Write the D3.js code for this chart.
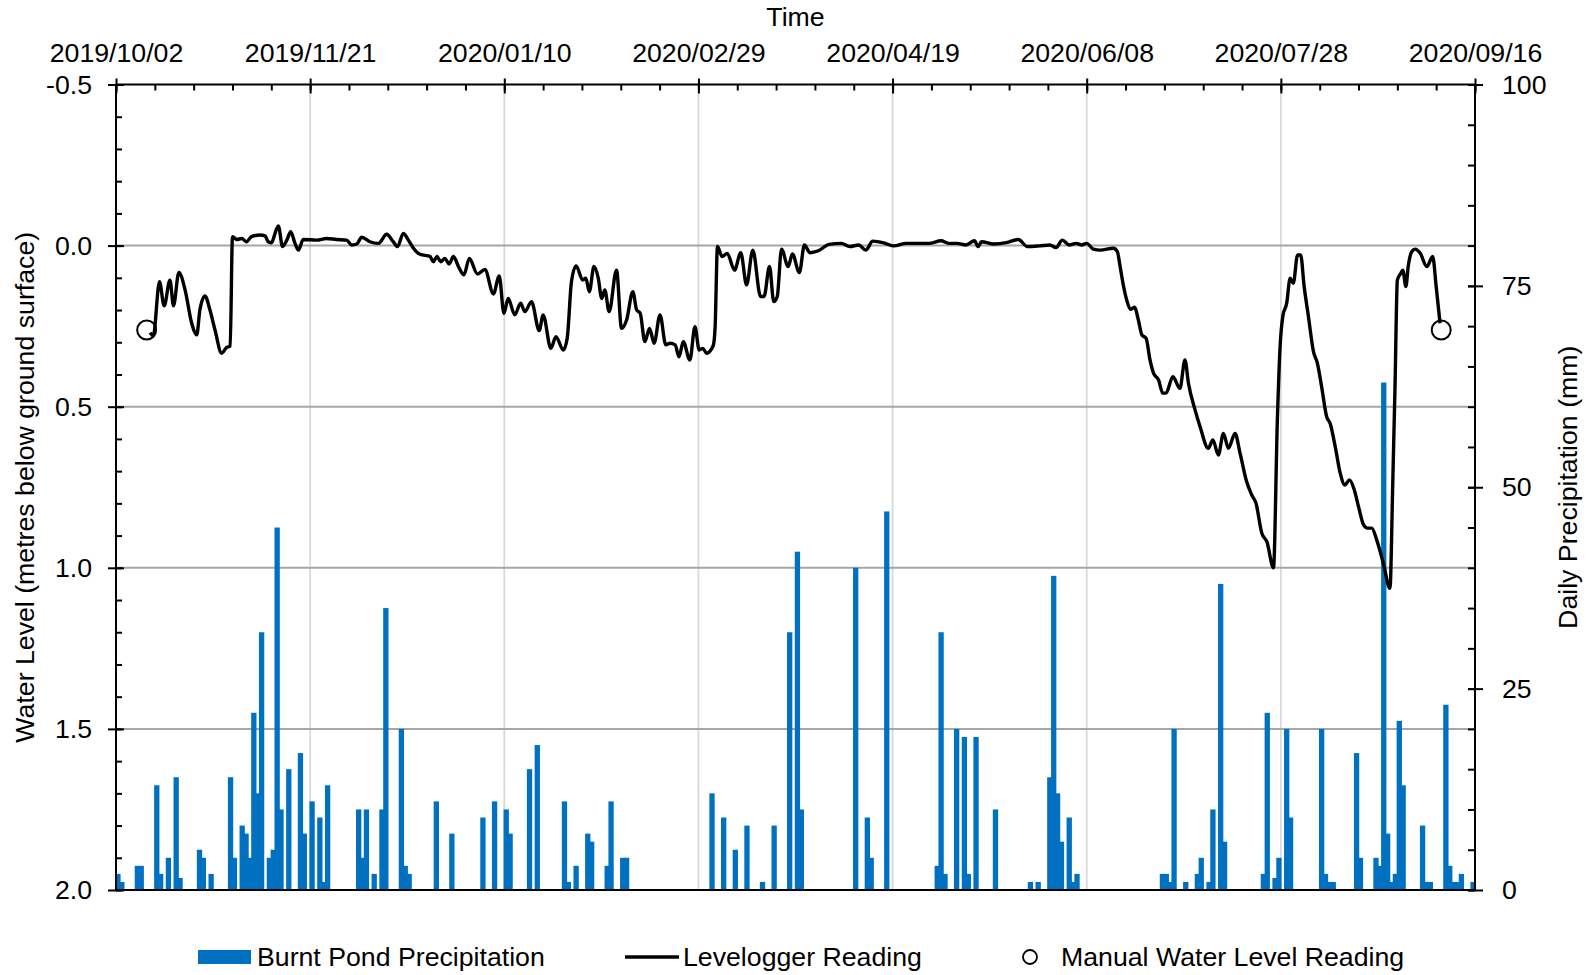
<!DOCTYPE html>
<html>
<head>
<meta charset="utf-8">
<script src="https://cdn.jsdelivr.net/npm/d3@7/dist/d3.min.js"></script>
<style>
  body { margin: 0; background: #fff; }
  svg text { font-family: "Liberation Sans", Arial, sans-serif; fill: #000; }
</style>
</head>
<body>
<div id="chart"></div>
<script>
// --- Datos (días contados desde 2019/10/02) ---
const xTickLabels = ["2019/10/02", "2019/11/21", "2020/01/10", "2020/02/29", "2020/04/19", "2020/06/08", "2020/07/28", "2020/09/16"];
const leftTicks = [-0.5, 0.0, 0.5, 1.0, 1.5, 2.0];
const rightTicks = [0, 25, 50, 75, 100];

// Precipitación diaria (mm)
const precipDay = [0, 1, 5, 6, 10, 11, 13, 15, 16, 21, 22, 24, 29, 30, 32, 33, 34, 35, 36, 37, 39, 40, 41, 42, 44, 47, 48, 50, 52, 53, 54,
  62, 63, 64, 66, 68, 69, 73, 74, 75, 82, 86, 94, 97, 100, 101, 106, 108,
  115, 116, 118, 121, 122, 126, 127, 130, 131, 153, 156, 159, 162, 166, 169, 173, 175, 176, 190, 193, 194, 198,
  211, 212, 213, 216, 218, 219, 221, 226, 235, 237, 240, 241, 242, 243, 245, 246, 247,
  269, 270, 271, 272, 275, 278, 279, 281, 282, 284, 285, 295, 296, 298, 299, 301, 302, 310, 311, 312, 313,
  319, 320, 324, 325, 326, 327, 328, 329, 330, 331, 336, 337, 338, 342, 343, 344, 345, 346, 349];
const precipMm = [2, 1, 3, 3, 13, 2, 4, 14, 1.5, 5, 4, 2, 14, 4, 8, 7, 4, 22, 12, 32, 4, 5, 45, 10, 15, 17, 7, 11, 9, 1, 13,
  10, 4, 10, 2, 10, 35, 20, 3, 2, 11, 7, 9, 11, 10, 7, 15, 18,
  11, 1, 3, 7, 6, 3, 11, 4, 4, 12, 9, 5, 8, 1, 8, 32, 42, 10, 40, 9, 4, 47,
  3, 32, 2, 20, 19, 2, 19, 10, 1, 1, 14, 39, 12, 6, 9, 1, 2,
  2, 2, 1, 20, 1, 2, 4, 1, 10, 38, 6, 2, 22, 1.5, 4, 20, 9, 20, 2, 1, 1,
  17, 4, 4, 3, 63, 7, 1, 2, 21, 13, 8, 1, 1, 23, 3, 1, 1, 2, 1];

// Lectura del Levelogger (m bajo la superficie)
const levelDay = [8.8, 9.6, 11.2, 12.4, 13.9, 14.8, 16.2, 17.8, 19.5, 20.8, 21.6, 22.9, 24.2, 25.5, 27.2, 28.5, 29.4,
  30.0, 31.1, 32.4, 33.6, 34.9, 37.1, 38.4, 39.2, 40.1, 40.7, 41.8, 42.9, 44.0, 45.0, 46.1, 47.0, 48.2,
  51.7, 54.2, 56.8, 59.4, 60.7, 62.0, 63.3, 65.4, 67.6, 69.7, 71.4, 72.5, 74.0, 75.3, 76.6, 78.3,
  80.9, 81.7, 82.7, 83.6, 84.7, 85.8, 86.9, 88.2, 89.6, 91.0, 93.1, 95.0, 97.2, 98.7, 99.9,
  101.0, 102.7, 104.2, 105.3, 107.0, 109.0, 110.0, 112.0, 113.3, 115.2, 116.2, 117.3, 118.5,
  120.2, 121.0, 121.9, 123.1, 124.2, 125.1, 125.9, 127.0, 128.9, 130.2, 131.5, 133.1, 134.1, 135.0,
  136.2, 137.4, 138.6, 140.1, 141.6, 142.7, 144.0, 145.0, 146.1, 147.8, 149.1, 150.2, 151.1, 152.1,
  153.8, 154.3, 154.9, 156.1, 157.4, 159.3, 160.9, 162.4, 164.0, 166.0, 166.9, 168.3, 169.4, 170.3,
  171.4, 173.1, 174.2, 176.0, 177.3, 178.7, 180.9, 183.6, 186.8, 189.0, 191.3, 193.1, 194.9, 198.1,
  200.3, 203.5, 206.2, 209.4, 212.5, 214.4, 216.6, 218.9, 221.1, 222.0, 222.9, 226.1, 229.3, 232.4,
  234.7, 237.8, 240.5, 242.1, 243.7, 245.5, 247.3, 248.7, 250.0, 251.7, 253.5, 256.9, 257.9, 258.6,
  259.5, 260.3, 261.3, 262.3, 263.3, 264.2, 265.3, 266.3, 267.2, 268.5, 269.6, 270.4, 272.2, 274.0,
  275.3, 276.2, 277.9, 279.2, 281.3, 282.5, 283.9, 285.2, 286.5, 288.2, 289.5, 291.2, 292.5, 293.6,
  295.1, 296.4, 298.1, 299.1, 299.8, 300.5, 301.5, 302.4, 303.2, 304.3, 305.1, 306.0, 307.1, 308.4,
  309.4, 310.5, 311.8, 312.7, 314.0, 315.3, 316.5, 317.7, 318.9, 320.0, 321.3, 322.3, 323.4, 324.7,
  326.4, 328.1, 328.8, 329.4, 330.0, 330.9, 331.4, 332.2, 332.8, 333.7, 334.6, 335.9, 337.6, 339.1,
  340.0, 341.0];
const levelM = [0.270, 0.280, 0.112, 0.187, 0.107, 0.187, 0.083, 0.138, 0.241, 0.277, 0.200, 0.156, 0.200, 0.262, 0.334, 0.316, 0.312,
  -0.028, -0.019, -0.022, -0.012, -0.028, -0.033, -0.030, -0.012, -0.009, -0.028, -0.061, 0.003, -0.017, -0.043, -0.007, 0.014, -0.019,
  -0.017, -0.022, -0.019, -0.017, -0.002, -0.005, -0.026, -0.012, -0.007, -0.035, -0.012, 0.003, -0.038, -0.017, 0.008, 0.027,
  0.034, 0.050, 0.034, 0.050, 0.040, 0.057, 0.034, 0.065, 0.091, 0.040, 0.088, 0.074, 0.150, 0.094, 0.210,
  0.164, 0.215, 0.179, 0.205, 0.174, 0.264, 0.215, 0.319, 0.283, 0.324, 0.288, 0.112, 0.063,
  0.107, 0.101, 0.143, 0.065, 0.101, 0.164, 0.138, 0.205, 0.076, 0.257, 0.231, 0.143, 0.200, 0.210,
  0.298, 0.257, 0.303, 0.215, 0.308, 0.303, 0.308, 0.345, 0.298, 0.355, 0.252, 0.324, 0.319, 0.334,
  0.311, 0.252, 0.003, 0.034, 0.024, 0.076, 0.022, 0.122, 0.014, 0.158, 0.158, 0.065, 0.174, 0.158,
  0.011, 0.065, 0.026, 0.084, -0.002, 0.022, 0.016, -0.004, -0.007, 0.003, -0.002, 0.014, -0.014, -0.007,
  0.001, -0.007, -0.007, -0.007, -0.015, -0.007, -0.007, -0.002, -0.015, 0.003, -0.012, -0.005, -0.009, -0.019,
  0.003, 0.001, -0.002, 0.006, -0.017, -0.002, -0.007, -0.002, -0.007, 0.011, 0.014, 0.008, 0.019, 0.065,
  0.127, 0.169, 0.198, 0.191, 0.231, 0.277, 0.288, 0.355, 0.396, 0.417, 0.458, 0.458, 0.407, 0.443,
  0.355, 0.427, 0.510, 0.562, 0.629, 0.603, 0.650, 0.583, 0.629, 0.583, 0.645, 0.733, 0.774, 0.800,
  0.893, 0.919, 1.000, 0.541, 0.314, 0.220, 0.179, 0.101, 0.117, 0.029, 0.029, 0.127, 0.220, 0.329,
  0.365, 0.438, 0.531, 0.552, 0.624, 0.707, 0.743, 0.727, 0.758, 0.810, 0.867, 0.877, 0.877, 0.914,
  0.986, 1.064, 0.748, 0.438, 0.107, 0.086, 0.076, 0.127, 0.065, 0.019, 0.011, 0.024, 0.065, 0.034,
  0.127, 0.241];

// Lecturas manuales
const manualDay = [7.9, 341.3];
const manualM = [0.262, 0.262];

// --- Dimensiones ---
const width = 1595, height = 975;
const plot = { left: 116, right: 1475, top: 84.5, bottom: 890 };
const FONT = 26.7;

const parseDate = d3.utcParse("%Y/%m/%d");
const start = parseDate(xTickLabels[0]);
const end = parseDate(xTickLabels[xTickLabels.length - 1]);
const dayToDate = d => new Date(start.getTime() + d * 864e5);

const x = d3.scaleUtc().domain([start, end]).range([plot.left, plot.right]);
const yL = d3.scaleLinear().domain([-0.5, 2.0]).range([plot.top, plot.bottom]);
const yR = d3.scaleLinear().domain([0, 100]).range([plot.bottom, plot.top]);

const svg = d3.select("#chart").append("svg")
  .attr("width", width)
  .attr("height", height);

// --- Rejilla ---
const majorDates = xTickLabels.map(parseDate);
svg.append("g").selectAll("line")
  .data(majorDates.slice(1, -1)).enter().append("line")
  .attr("x1", d => x(d)).attr("x2", d => x(d))
  .attr("y1", plot.top).attr("y2", plot.bottom)
  .attr("stroke", "#d9d9d9").attr("stroke-width", 1.8);

svg.append("g").selectAll("line")
  .data(leftTicks.slice(1, -1)).enter().append("line")
  .attr("x1", plot.left).attr("x2", plot.right)
  .attr("y1", d => yL(d)).attr("y2", d => yL(d))
  .attr("stroke", "#a6a6a6").attr("stroke-width", 2);

// --- Barras de precipitación ---
const barW = 5.3;
svg.append("g").selectAll("rect")
  .data(precipDay.map((d, i) => ({ day: d, mm: precipMm[i] }))).enter().append("rect")
  .attr("x", d => x(dayToDate(d.day + 0.5)) - barW / 2)
  .attr("width", barW)
  .attr("y", d => yR(d.mm))
  .attr("height", d => yR(0) - yR(d.mm))
  .attr("fill", "#0070c0");

// --- Lecturas manuales ---
svg.append("g").selectAll("circle")
  .data(manualDay.map((d, i) => ({ day: d, m: manualM[i] }))).enter().append("circle")
  .attr("cx", d => x(dayToDate(d.day)))
  .attr("cy", d => yL(d.m))
  .attr("r", 9.5)
  .attr("fill", "#fff")
  .attr("stroke", "#000")
  .attr("stroke-width", 2);

// --- Línea del Levelogger ---
const line = d3.line()
  .x(i => x(dayToDate(levelDay[i])))
  .y(i => yL(levelM[i]))
  .curve(d3.curveMonotoneX);

svg.append("path")
  .attr("d", line(d3.range(levelDay.length)))
  .attr("fill", "none")
  .attr("stroke", "#000")
  .attr("stroke-width", 3.4)
  .attr("stroke-linejoin", "round");

// --- Marco ---
const frame = svg.append("g").attr("stroke", "#000").attr("stroke-width", 2);
frame.append("line").attr("x1", plot.left).attr("x2", plot.right).attr("y1", plot.top).attr("y2", plot.top);
frame.append("line").attr("x1", plot.left).attr("x2", plot.right).attr("y1", plot.bottom).attr("y2", plot.bottom);
frame.append("line").attr("x1", plot.left).attr("x2", plot.left).attr("y1", plot.top).attr("y2", plot.bottom);
frame.append("line").attr("x1", plot.right).attr("x2", plot.right).attr("y1", plot.top).attr("y2", plot.bottom);

function styleAxis(g) {
  g.select(".domain").remove();
  g.attr("font-size", FONT).attr("font-family", "'Liberation Sans', Arial, sans-serif");
  g.selectAll(".tick line").attr("stroke", "#000").attr("stroke-width", 2);
  g.selectAll(".tick text").attr("fill", "#000");
}

// Eje superior (fechas)
const minorDates = d3.utcDay.range(start, dayToDate(351), 10);
svg.append("g").attr("transform", `translate(0,${plot.top})`)
  .call(d3.axisTop(x).tickValues(minorDates).tickSize(-6).tickFormat(""))
  .call(styleAxis);
svg.append("g").attr("transform", `translate(0,${plot.top})`)
  .call(d3.axisTop(x).tickValues(majorDates).tickSize(6).tickPadding(17).tickFormat(d3.utcFormat("%Y/%m/%d")))
  .call(styleAxis)
  .selectAll(".tick").append("line").attr("y2", 9).attr("stroke", "#000").attr("stroke-width", 2);

// Eje izquierdo (nivel de agua)
svg.append("g").attr("transform", `translate(${plot.left},0)`)
  .call(d3.axisLeft(yL).tickValues(d3.range(-5, 21).map(d => d / 10)).tickSize(-6).tickFormat(""))
  .call(styleAxis);
svg.append("g").attr("transform", `translate(${plot.left},0)`)
  .call(d3.axisLeft(yL).tickValues(leftTicks).tickSize(8).tickPadding(16).tickFormat(d => d.toFixed(1)))
  .call(styleAxis)
  .selectAll(".tick").append("line").attr("x2", 8).attr("stroke", "#000").attr("stroke-width", 2);

// Eje derecho (precipitación)
svg.append("g").attr("transform", `translate(${plot.right},0)`)
  .call(d3.axisRight(yR).tickValues(d3.range(0, 101, 5)).tickSize(-7).tickFormat(""))
  .call(styleAxis);
svg.append("g").attr("transform", `translate(${plot.right},0)`)
  .call(d3.axisRight(yR).tickValues(rightTicks).tickSize(8).tickPadding(19).tickFormat(d3.format("d")))
  .call(styleAxis)
  .selectAll(".tick").append("line").attr("x2", -7).attr("stroke", "#000").attr("stroke-width", 2);

// --- Títulos ---
svg.append("text")
  .attr("x", (plot.left + plot.right) / 2).attr("y", 26)
  .attr("text-anchor", "middle").attr("font-size", FONT)
  .text("Time");

svg.append("text")
  .attr("transform", `translate(34,${(plot.top + plot.bottom) / 2}) rotate(-90)`)
  .attr("text-anchor", "middle").attr("font-size", FONT)
  .text("Water Level (metres below ground surface)");

svg.append("text")
  .attr("transform", `translate(1577,${(plot.top + plot.bottom) / 2}) rotate(-90)`)
  .attr("text-anchor", "middle").attr("font-size", FONT)
  .text("Daily Precipitation (mm)");

// --- Leyenda ---
const legend = svg.append("g").attr("font-size", FONT);
const legY = 957;
legend.append("rect").attr("x", 198).attr("y", legY - 7).attr("width", 53).attr("height", 14).attr("fill", "#0070c0");
legend.append("text").attr("x", 257).attr("y", legY + 9).text("Burnt Pond Precipitation");
legend.append("line").attr("x1", 625).attr("x2", 679).attr("y1", legY).attr("y2", legY)
  .attr("stroke", "#000").attr("stroke-width", 3.4);
legend.append("text").attr("x", 683).attr("y", legY + 9).text("Levelogger Reading");
legend.append("circle").attr("cx", 1030).attr("cy", legY).attr("r", 7)
  .attr("fill", "#fff").attr("stroke", "#000").attr("stroke-width", 1.8);
legend.append("text").attr("x", 1061).attr("y", legY + 9).text("Manual Water Level Reading");
</script>
</body>
</html>
